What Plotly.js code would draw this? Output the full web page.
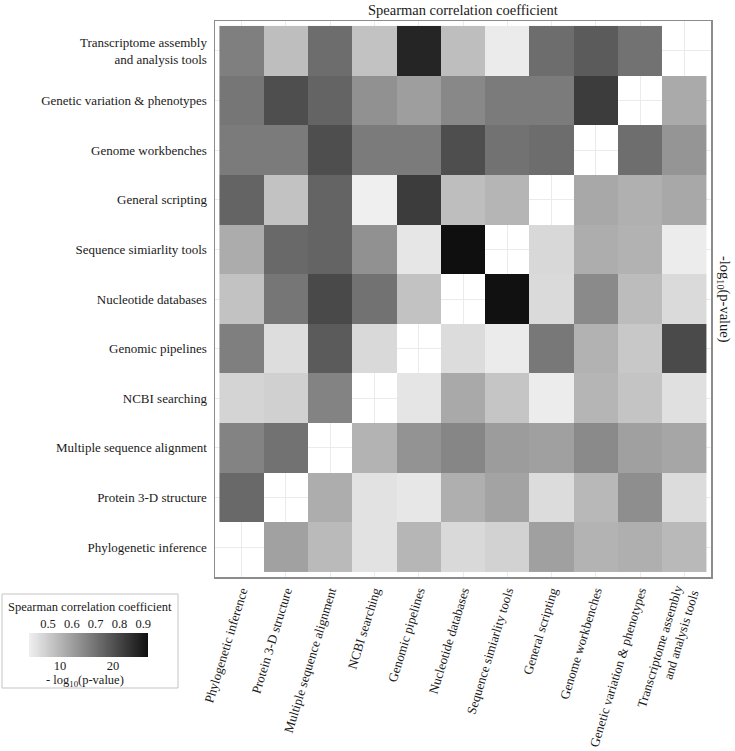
<!DOCTYPE html>
<html>
<head>
<meta charset="utf-8">
<script src="https://cdn.plot.ly/plotly-3.0.1.min.js"></script>
<style>html,body{margin:0;padding:0;background:#fff}</style>
</head>
<body>
<div id="chart" style="width:735px;height:751px"></div>
<script>
// Column categories (left to right)
const xCats = ["Phylogenetic inference", "Protein 3-D structure", "Multiple sequence alignment",
  "NCBI searching", "Genomic pipelines", "Nucleotide databases", "Sequence simiarlity tools",
  "General scripting", "Genome workbenches", "Genetic variation & phenotypes",
  "Transcriptome assembly<br>and analysis tools"];
// Row categories (top to bottom)
const yCats = ["Transcriptome assembly<br>and analysis tools", "Genetic variation & phenotypes",
  "Genome workbenches", "General scripting", "Sequence simiarlity tools", "Nucleotide databases",
  "Genomic pipelines", "NCBI searching", "Multiple sequence alignment", "Protein 3-D structure",
  "Phylogenetic inference"];

// Upper-left triangle: Spearman correlation coefficient (rows top to bottom)
const spearman = [
  [0.67,0.53,0.71,0.52,0.87,0.53,0.43,0.71,0.75,0.70,null],
  [0.69,0.78,0.73,0.63,0.60,0.65,0.68,0.68,0.82,null,null],
  [0.68,0.68,0.78,0.68,0.68,0.78,0.70,0.71,null,null,null],
  [0.73,0.52,0.73,0.42,0.82,0.53,0.55,null,null,null,null],
  [0.57,0.72,0.73,0.63,0.44,0.92,null,null,null,null,null],
  [0.52,0.69,0.79,0.70,0.52,null,null,null,null,null,null],
  [0.67,0.46,0.75,0.47,null,null,null,null,null,null,null],
  [0.48,0.49,0.66,null,null,null,null,null,null,null,null],
  [0.66,0.70,null,null,null,null,null,null,null,null,null],
  [0.72,null,null,null,null,null,null,null,null,null,null],
  [null,null,null,null,null,null,null,null,null,null,null]
];
// Lower-right triangle: -log10(p-value) (rows top to bottom)
const negLogP = [
  [null,null,null,null,null,null,null,null,null,null,null],
  [null,null,null,null,null,null,null,null,null,null,11.1],
  [null,null,null,null,null,null,null,null,null,17.1,13.2],
  [null,null,null,null,null,null,null,null,11.3,10.5,11.3],
  [null,null,null,null,null,null,null,6.5,10.8,10.3,4.5],
  [null,null,null,null,null,null,26.4,6.3,14.3,9.3,6.3],
  [null,null,null,null,null,6.1,4.6,16.1,10.3,8.1,20.7],
  [null,null,null,null,5.2,11.2,8.4,4.5,10.0,8.5,5.7],
  [null,null,null,10.2,13.4,14.7,12.5,12.1,14.3,12.1,11.5],
  [null,null,10.8,5.5,5.0,10.6,11.8,6.1,9.7,13.9,6.1],
  [null,12.0,9.5,5.5,9.9,6.4,7.1,12.1,10.2,10.6,9.6]
];

const rhoRange = [0.42, 0.92];
const pRange = [4.15, 26.6];
const rhoTicks = [0.5, 0.6, 0.7, 0.8, 0.9];
const pTicks = [10, 20];

const W = 735, H = 751;
const px = v => v / W;
const py = v => 1 - v / H;
const grayScale = [[0, '#efefef'], [1, '#0f0f0f']];
const serif = 'Liberation Serif, Times New Roman, serif';

const traces = [
  {type: 'heatmap', x: xCats, y: yCats, z: spearman, zmin: rhoRange[0], zmax: rhoRange[1],
   colorscale: grayScale, showscale: false, hoverinfo: 'skip', xaxis: 'x', yaxis: 'y'},
  {type: 'heatmap', x: xCats, y: yCats, z: negLogP, zmin: pRange[0], zmax: pRange[1],
   colorscale: grayScale, showscale: false, hoverinfo: 'skip', xaxis: 'x', yaxis: 'y'},
  // legend gradient bar
  {type: 'heatmap', x: rhoRange, y: [-1, 1], z: [rhoRange, rhoRange], zmin: rhoRange[0], zmax: rhoRange[1],
   zsmooth: 'best', colorscale: grayScale, showscale: false, hoverinfo: 'skip', xaxis: 'x2', yaxis: 'y2'},
  {type: 'scatter', x: [], y: [], xaxis: 'x3', yaxis: 'y2', showlegend: false, hoverinfo: 'skip'}
];

const mainAxis = {
  type: 'category', categoryorder: 'array', showgrid: true, gridcolor: '#ebebeb', gridwidth: 1,
  showline: true, mirror: true, linecolor: '#8c8c8c', linewidth: 1.5, ticks: '', zeroline: false,
  automargin: false, tickfont: {family: serif, size: 13, color: '#1a1a1a'}, fixedrange: true
};

const layout = {
  width: W, height: H, margin: {l: 0, r: 0, t: 0, b: 0}, paper_bgcolor: '#ffffff', plot_bgcolor: '#ffffff',
  showlegend: false,
  xaxis: Object.assign({}, mainAxis, {domain: [px(215), px(711)], anchor: 'y', categoryarray: xCats,
    range: [-0.6, 10.6], tickangle: -73, ticklabelstandoff: 0}),
  yaxis: Object.assign({}, mainAxis, {domain: [py(577), py(21)], anchor: 'x', categoryarray: yCats,
    range: [10.6, -0.6], ticklabelstandoff: 4}),
  xaxis2: {domain: [px(29), px(148)], anchor: 'y2', side: 'top', range: rhoRange, tickvals: rhoTicks,
    ticktext: rhoTicks.map(v => v.toFixed(1)), ticks: '', showgrid: false, zeroline: false, showline: false,
    automargin: false, fixedrange: true, tickfont: {family: serif, size: 12.5, color: '#1a1a1a'}, ticklabelstandoff: 2},
  xaxis3: {overlaying: 'x2', anchor: 'y2', side: 'bottom', range: pRange, tickvals: pTicks, ticks: '',
    showgrid: false, zeroline: false, showline: false, automargin: false, fixedrange: true,
    tickfont: {family: serif, size: 12.5, color: '#1a1a1a'}, ticklabelstandoff: -1},
  yaxis2: {domain: [py(657), py(633)], anchor: 'x2', range: [-0.5, 0.5], visible: false, fixedrange: true},
  shapes: [
    {type: 'rect', xref: 'paper', yref: 'paper', x0: px(2), x1: px(178), y0: py(688), y1: py(594),
     line: {color: '#c4c4c4', width: 1}, fillcolor: 'rgba(0,0,0,0)', layer: 'below'}
  ],
  annotations: [
    {text: 'Spearman correlation coefficient', xref: 'paper', yref: 'paper', x: px(463), y: py(10),
     xanchor: 'center', yanchor: 'middle', showarrow: false, font: {family: serif, size: 14.5, color: '#1a1a1a'}},
    {text: '-log<sub>10</sub>(p-value)', xref: 'paper', yref: 'paper', x: px(724), y: py(299),
     xanchor: 'center', yanchor: 'middle', textangle: 90, showarrow: false,
     font: {family: serif, size: 14.5, color: '#1a1a1a'}},
    {text: 'Spearman correlation coefficient', xref: 'paper', yref: 'paper', x: px(90), y: py(607),
     xanchor: 'center', yanchor: 'middle', showarrow: false, font: {family: serif, size: 12.5, color: '#1a1a1a'}},
    {text: '- log<sub>10</sub>(p-value)', xref: 'paper', yref: 'paper', x: px(85), y: py(681),
     xanchor: 'center', yanchor: 'middle', showarrow: false, font: {family: serif, size: 12.5, color: '#1a1a1a'}}
  ]
};

Plotly.newPlot('chart', traces, layout, {displayModeBar: false, staticPlot: true});
</script>
</body>
</html>
